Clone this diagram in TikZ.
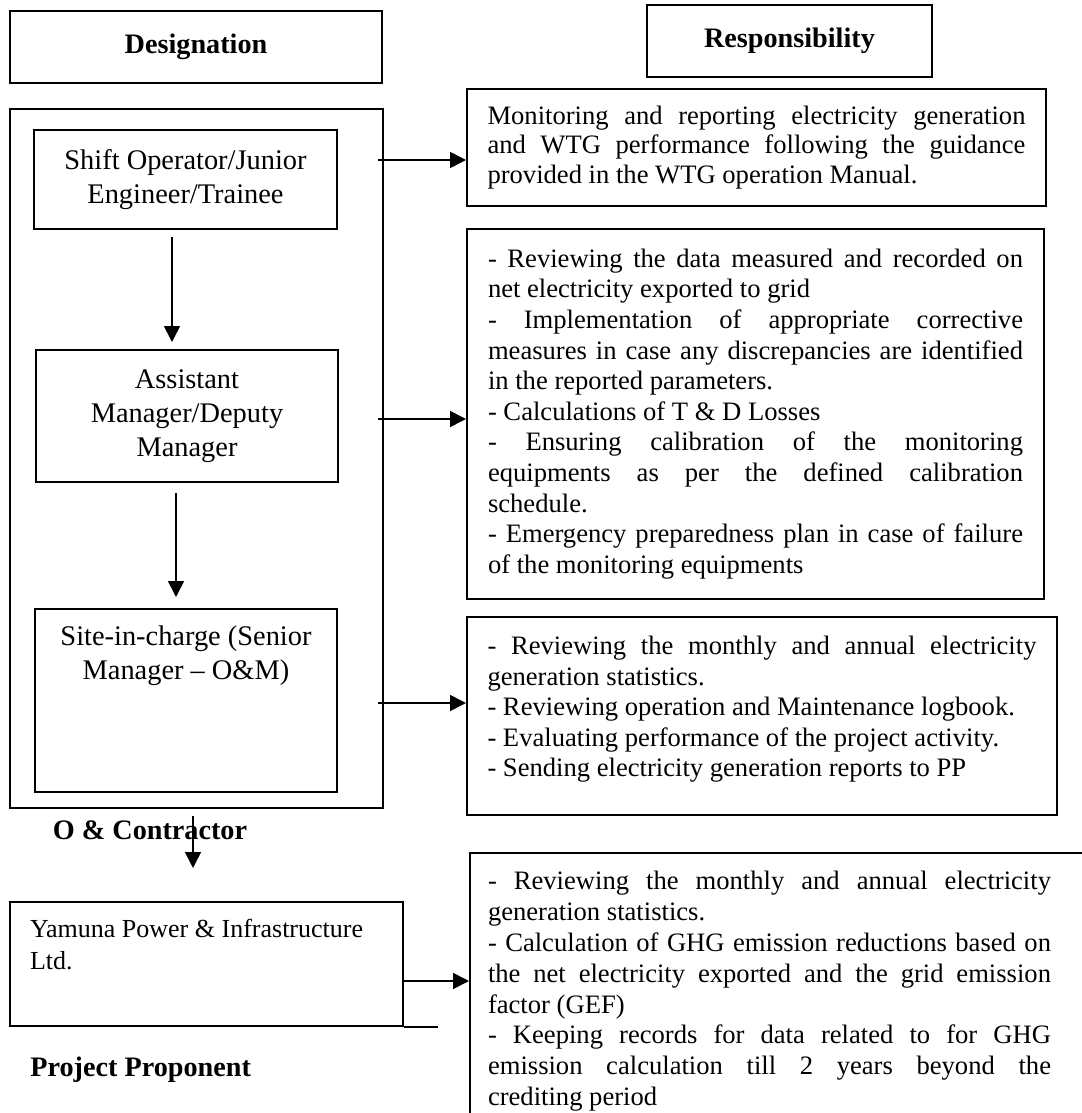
\documentclass[tikz,border=0pt]{standalone}
\usepackage{fontspec}
\setmainfont{Liberation Serif}
\usetikzlibrary{arrows.meta}

\newcommand{\headfont}{\fontsize{14.1}{17}\selectfont\bfseries}
\newcommand{\postfont}{\fontsize{14.2}{17}\selectfont}
\newcommand{\dutyfont}{\fontsize{13.3}{15.3}\selectfont}

\begin{document}
\begin{tikzpicture}[x=0.5pt, y=-0.5pt,
    box/.style={draw, line width=1pt, inner sep=0pt},
    dutybox/.style={box, inner xsep=10pt, font=\dutyfont},
    arr/.style={-{Triangle[length=8pt,width=8pt]}, line width=0.8pt}]
    \useasboundingbox (0,0) rectangle (1081,1113);

    % --- 1. column headers ---
    \node[box, minimum width=186pt, minimum height=36pt, font=\headfont] (desig) at (196,47) {Designation};
    \node[box, minimum width=142.5pt, minimum height=36pt, font=\headfont] (resp) at (789.5,41) {Responsibility};

    % --- 2. O&M contractor frame and its posts ---
    \node[box, minimum width=186.5pt, minimum height=349.5pt] (om) at (196.5,458.5) {};
    \node[box, minimum width=151.5pt, minimum height=49.5pt, align=center, font=\postfont] (shift) at (185.5,179.5)
        {Shift Operator/Junior\\Engineer/Trainee};
    \node[box, minimum width=151pt, minimum height=66pt, align=center, font=\postfont] (asst) at (187,416)
        {Assistant\\Manager/Deputy\\Manager};
    \node[box, minimum width=151pt, inner ysep=8.5pt, font=\postfont] (site) at (186,700.5)
        {\parbox[c][74.5pt][t]{140pt}{\centering Site-in-charge (Senior\\Manager -- O\&M)}};
    \node[font=\headfont] (omc) at (150,830) {O \& Contractor};

    % --- 3. responsibility boxes ---
    \node[dutybox, minimum width=289.5pt, minimum height=58.5pt] (mon) at (756.5,147.5)
        {\parbox{269pt}{\fontsize{13.3}{14.6}\selectfont Monitoring and reporting electricity generation\linebreak
        and WTG performance following the guidance\linebreak
        provided in the WTG operation Manual.}};
    \node[dutybox, minimum width=288.5pt, minimum height=185pt] (rev) at (755.5,414)
        {\parbox{267.5pt}{- Reviewing the data measured and recorded on\linebreak
        net electricity exported to grid\\
        - Implementation of appropriate corrective\linebreak
        measures in case any discrepancies are identified\linebreak
        in the reported parameters.\\
        - Calculations of T \& D Losses\\
        - Ensuring calibration of the monitoring\linebreak
        equipments as per the defined calibration\linebreak
        schedule.\\
        - Emergency preparedness plan in case of failure\linebreak
        of the monitoring equipments}};
    \node[dutybox, minimum width=295pt, minimum height=99pt] (stat) at (762,716)
        {\parbox[c][80pt][t]{274.5pt}{- Reviewing the monthly and annual electricity\linebreak
        generation statistics.\\
        - Reviewing operation and Maintenance logbook.\\
        - Evaluating performance of the project activity.\\
        - Sending electricity generation reports to PP}};

    % --- 4. project proponent ---
    \node[box, minimum width=196.5pt, inner xsep=10pt, inner ysep=8.5pt, font=\fontsize{13}{16}\selectfont] (ypil) at (206.5,964)
        {\parbox[c][45pt][t]{176.5pt}{\raggedright Yamuna Power \& Infrastructure\\Ltd.}};
    \node[font=\headfont, anchor=west, inner sep=0pt] (pp) at (30,1070) {Project Proponent};
    \node[box, anchor=north west, inner xsep=9pt, inner ysep=9pt, font=\fontsize{13.3}{15.45}\selectfont] (ghg) at (469,852)
        {\parbox[c][150pt][t]{281.5pt}{- Reviewing the monthly and annual electricity\linebreak
        generation statistics.\\
        - Calculation of GHG emission reductions based on\linebreak
        the net electricity exported and the grid emission\linebreak
        factor (GEF)\\
        - Keeping records for data related to for GHG\linebreak
        emission calculation till 2 years beyond the\linebreak
        crediting period}\kern40pt};

    % --- 5. arrows ---
    \draw[arr] ([xshift=-6.75pt,yshift=-3.5pt]shift.south) -- ([xshift=-7.5pt,yshift=3.5pt]asst.north);
    \draw[arr] ([xshift=-5.5pt,yshift=-5pt]asst.south) -- ([xshift=-5pt,yshift=5.5pt]site.north);

    \coordinate (omr) at ([xshift=-3pt]om.east);
    \coordinate (mon-in) at ([yshift=-6.25pt]mon.west);
    \coordinate (rev-in) at ([yshift=-2.5pt]rev.west);
    \coordinate (stat-in) at ([yshift=6.5pt]stat.west);
    \draw[arr] (omr |- mon-in) -- (mon-in);
    \draw[arr] (omr |- rev-in) -- (rev-in);
    \draw[arr] (omr |- stat-in) -- (stat-in);

    \draw[arr] ([xshift=-1.75pt,yshift=-3.5pt]om.south) -- ([xshift=-6.75pt,yshift=16.5pt]ypil.north);

    \coordinate (ypil-out) at ([yshift=-8.5pt]ypil.east);
    \draw[arr] (ypil-out) -- (ypil-out -| ghg.west);
    \draw[line width=0.8pt] (ypil.south east) -- ++(17pt,0);

\end{tikzpicture}
\end{document}
